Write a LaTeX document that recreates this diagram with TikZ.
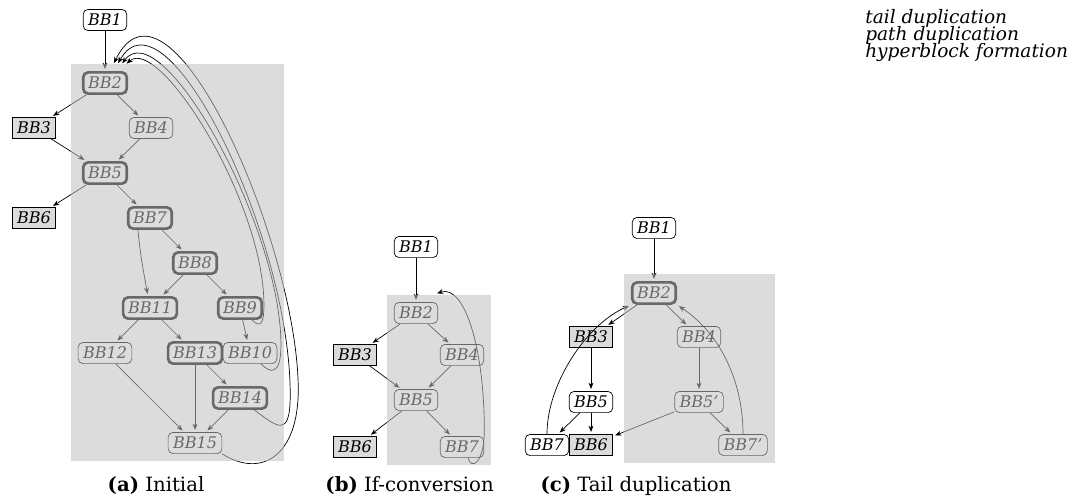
\documentclass[tikz,border=0pt]{standalone}
\usepackage{fontspec}
\setmainfont{DejaVu Serif}
\usepackage{tikz}
\usetikzlibrary{
    arrows.meta,
    positioning,
    fit,
    calc
}
\definecolor{Cregion}{gray}{0.75}
\definecolor{Cexit}{gray}{0.86}
\tikzset{
    bbplain/.style={
        rectangle, rounded corners=3.5pt, draw=black, line width=0.5pt,
        text=black, minimum height=0.53cm, inner xsep=3.5pt, inner ysep=2pt,
        font=\fontsize{11.4}{13}\selectfont\itshape
    },
    bbhot/.style={bbplain, line width=1.9pt},
    bbentry/.style={bbplain, fill=white},
    bbexit/.style={bbplain, rounded corners=0pt, fill=Cexit},
    barr/.style={-{Stealth[length=4.5pt, width=3.5pt]}, line width=0.5pt, black, shorten >=1.5pt},
    hregion/.style={rectangle, fill=Cregion, fill opacity=0.55, inner sep=0.17cm},
    subcap/.style={anchor=base, font=\fontsize{14}{16}\selectfont},
    passname/.style={anchor=base west, inner sep=0pt, font=\fontsize{13.2}{15}\selectfont\itshape},
}

\begin{document}
\begin{tikzpicture}[node distance=1.125cm and 1.125cm, on grid]

    \useasboundingbox (0,0) rectangle (27.025,-12.5);

    % ── (a) Initial ──────────────────────────────────────
    \node [bbentry] (a1) at (2.625,-0.5) {BB1};
    \node [bbhot, below=1.575cm of a1] (a2) {BB2};
    \node [bbexit, below left=1.125cm and 1.775cm of a2] (a3) {BB3};
    \node [bbplain, below right=1.125cm and 1.15cm of a2] (a4) {BB4};
    \node [bbhot, below=2.25cm of a2] (a5) {BB5};
    \node [bbexit, below left=1.125cm and 1.775cm of a5] (a6) {BB6};
    \node [bbhot, below right=of a5] (a7) {BB7};
    \node [bbhot, below right=of a7] (a8) {BB8};
    \node [bbhot, below left=of a8] (a11) {BB11};
    \node [bbhot, below right=of a8] (a9) {BB9};
    \node [bbplain, below left=of a11] (a12) {BB12};
    \node [bbhot, below right=of a11] (a13) {BB13};
    \node [bbplain, below right=1.125cm and 0.25cm of a9] (a10) {BB10};
    \node [bbhot, below right=of a13] (a14) {BB14};
    \node [bbplain, below=2.25cm of a13] (a15) {BB15};

    \draw [barr] (a1) -- (a2);
    \draw [barr] (a2) -- (a3);
    \draw [barr] (a2) -- (a4);
    \draw [barr] (a3) -- (a5);
    \draw [barr] (a4) -- (a5);
    \draw [barr] (a5) -- (a6);
    \draw [barr] (a5) -- (a7);
    \draw [barr] (a7) -- (a8);
    \draw [barr] ([xshift=-0.3cm]a7.south) to[out=-85, in=100] (a11);
    \draw [barr] (a8) -- (a11);
    \draw [barr] (a8) -- (a9);
    \draw [barr] (a9) -- (a10);
    \draw [barr] (a11) -- (a12);
    \draw [barr] (a11) -- (a13);
    \draw [barr] (a12) -- (a15);
    \draw [barr] (a13) -- (a15);
    \draw [barr] (a13) -- (a14);
    \draw [barr] (a14) -- (a15);

    % back edges to the header
    \draw [barr] (a9.-45) .. controls +(0.2,-0.2) and +(0,-0.5) .. ++(0.3,0.375)
        .. controls +(0,2.6) and +(0.85,0.75) .. ($(a2.north)+(0.5,0.15)$);
    \draw [barr] (a10.-45) .. controls +(0.25,-0.25) and +(0,-0.75) .. ++(0.5,0.475)
        .. controls +(0,3.0) and +(1.0,1.35) .. ($(a2.north)+(0.4,0.15)$);
    \draw [barr] (a14.-40) .. controls +(0.55,-0.4) and +(0,-1.125) .. ++(0.9,0.375)
        .. controls +(0,4.0) and +(1.2,2.1) .. ($(a2.north)+(0.3,0.15)$);
    \draw [barr] (a15.south east) .. controls +(1.0,-0.625) and +(0,-1.625) .. ++(1.9,1.6)
        .. controls +(0,3.6) and +(1.4,2.85) .. ($(a2.north)+(0.2,0.15)$);

    \node [hregion, fit=(a2)(a12)(a10)(a15)] (regA) {};

    % ── (b) If-conversion ────────────────────────────────
    \node [bbentry] (b1) at (10.4,-6.175) {BB1};
    \node [bbplain, below=1.65cm of b1] (b2) {BB2};
    \node [bbexit, below left=1.05cm and 1.525cm of b2] (b3) {BB3};
    \node [bbplain, below right=1.05cm and 1.15cm of b2] (b4) {BB4};
    \node [bbplain, below=2.175cm of b2] (b5) {BB5};
    \node [bbexit, below left=1.175cm and 1.525cm of b5] (b6) {BB6};
    \node [bbplain, below right=1.175cm and 1.15cm of b5] (b7) {BB7};

    \draw [barr] (b1) -- (b2);
    \draw [barr] (b2) -- (b3);
    \draw [barr] (b2) -- (b4);
    \draw [barr] (b3) -- (b5);
    \draw [barr] (b4) -- (b5);
    \draw [barr] (b5) -- (b6);
    \draw [barr] (b5) -- (b7);
    \draw [barr] (b7.-60) .. controls +(0.05,-0.3) and +(0,-0.875) .. ++(0.4,0.7)
        .. controls +(0,2) and +(0.75,0.25) .. ($(b2.north)+(0.475,0.2)$);

    \node [hregion, fit=(b2)(b7)] (regB) {};

    % ── (c) Tail duplication ─────────────────────────────
    \node [bbentry] (c1) at (16.35,-5.7) {BB1};
    \node [bbhot, below=1.625cm of c1] (c2) {BB2};
    \node [bbexit, below left=1.1cm and 1.575cm of c2] (c3) {BB3};
    \node [bbplain, below right=1.1cm and 1.125cm of c2] (c4) {BB4};
    \node [bbentry, below=1.625cm of c3] (c5) {BB5};
    \node [bbplain, below=1.625cm of c4] (c5p) {BB5'};
    \node [bbexit, below=1.075cm of c5] (c6) {BB6};
    \node [bbentry, left=1.1cm of c6] (c7) {BB7};
    \node [bbplain, below right=1.075cm and 1.1cm of c5p] (c7p) {BB7'};

    \draw [barr] (c1) -- (c2);
    \draw [barr] (c2) -- (c3);
    \draw [barr] (c2) -- (c4);
    \draw [barr] (c3) -- (c5);
    \draw [barr] (c4) -- (c5p);
    \draw [barr] (c5) -- (c7);
    \draw [barr] (c5) -- (c6);
    \draw [barr] (c5p) -- (c6);
    \draw [barr] (c5p) -- (c7p);
    \draw [barr] (c7.north) .. controls +(0,1.25) and +(-1.125,-0.5) .. (c2.south west);
    \draw [barr] (c7p.north) .. controls +(0,1.25) and +(1.125,-0.75) .. (c2.south east);

    \node [hregion, fit=(c2)(c7p)] (regC) {};

    % ── captions ─────────────────────────────────────────
    \node [subcap] (capA) at (3.9,-12.275) {\textbf{(a)} Initial};
    \node [subcap] (capB) at (10.24,-12.275) {\textbf{(b)} If-conversion};
    \node [subcap] (capC) at (15.9,-12.275) {\textbf{(c)} Tail duplication};

    % ── pass names ───────────────────────────────────────
    \node [passname] (p1) at (21.625,-0.6) {tail duplication};
    \node [passname] (p2) at (21.625,-1.025) {path duplication};
    \node [passname] (p3) at (21.625,-1.45) {hyperblock formation};

\end{tikzpicture}
\end{document}
